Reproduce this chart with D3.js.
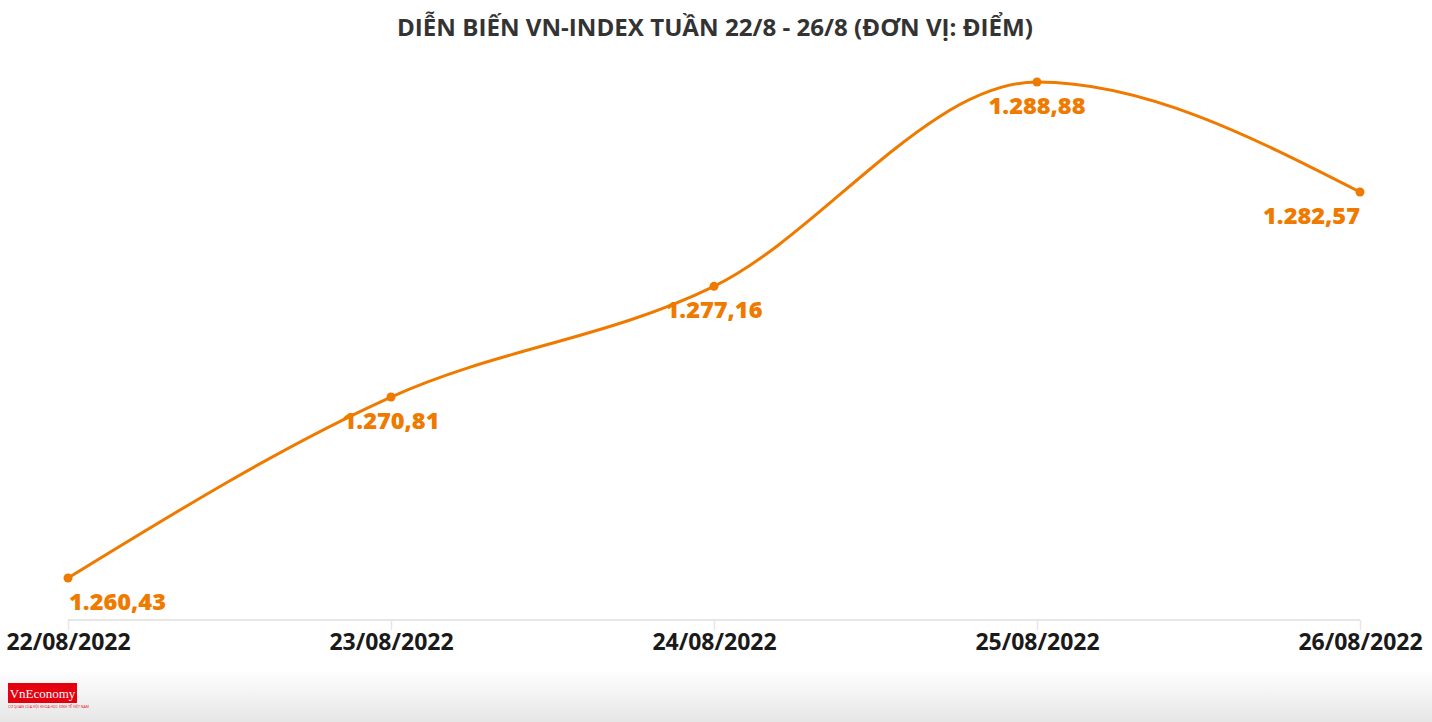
<!DOCTYPE html>
<html><head><meta charset="utf-8">
<script src="https://cdn.jsdelivr.net/npm/d3@7"></script>
<style>body{margin:0;background:#fff;overflow:hidden}svg{display:block}</style>
</head><body>
<svg id="c" width="1432" height="722"></svg>
<script>
const title = "DIỄN BIẾN VN-INDEX TUẦN 22/8 - 26/8 (ĐƠN VỊ: ĐIỂM)";
const dates = ["22/08/2022","23/08/2022","24/08/2022","25/08/2022","26/08/2022"];
const values = [1260.43, 1270.81, 1277.16, 1288.88, 1282.57];
const labels = ["1.260,43","1.270,81","1.277,16","1.288,88","1.282,57"];

const svg = d3.select("#c");
const W = 1432, H = 722;
const orange = "#ef7a00";
const font = "'Open Sans', 'Noto Sans', sans-serif";

const defs = svg.append("defs");
const g = defs.append("linearGradient").attr("id","sh").attr("x1",0).attr("y1",0).attr("x2",0).attr("y2",1);
g.append("stop").attr("offset","0%").attr("stop-color","#fff");
g.append("stop").attr("offset","100%").attr("stop-color","#e6e6e6");
svg.append("rect").attr("x",0).attr("y",670).attr("width",W).attr("height",52).attr("fill","url(#sh)");

const x = d3.scalePoint().domain(dates).range([68, 1360]);
const y = d3.scaleLinear().domain([1260.43, 1288.88]).range([578, 82]);

svg.append("text").attr("x", 715).attr("y", 36).attr("text-anchor","middle")
  .attr("font-family", font).attr("font-weight", 700).attr("font-size", 23)
  .attr("fill", "#333").attr("textLength", 636).attr("lengthAdjust","spacingAndGlyphs").text(title);

// x axis
const axisY = 620;
const ax = svg.append("g").attr("transform", `translate(0,${axisY})`)
  .call(d3.axisBottom(x).tickSize(10).tickPadding(8));
ax.select(".domain").attr("stroke","#e6e6e6").attr("stroke-width",2)
  .attr("d", `M${x(dates[0])},0H${x(dates[4])}`);
ax.selectAll(".tick line").attr("stroke","#e6e6e6").attr("stroke-width",1.5);
ax.selectAll(".tick text").attr("font-family", font).attr("font-weight",700)
  .attr("font-size",23).attr("fill","#1a1a1a").attr("dy","0.5em");

const data = dates.map((d,i)=>({d, v: values[i], l: labels[i]}));
const line = d3.line().x(d=>x(d.d)).y(d=>y(d.v)).curve(d3.curveMonotoneX);
svg.append("path").datum(data).attr("d", line).attr("fill","none")
  .attr("stroke", orange).attr("stroke-width",3);
svg.selectAll("circle.p").data(data).join("circle").attr("class","p")
  .attr("cx", d=>x(d.d)).attr("cy", d=>y(d.v)).attr("r",4.5).attr("fill", orange);
svg.selectAll("text.lbl").data(data).join("text").attr("class","lbl")
  .attr("x", (d,i)=> i===0 ? x(d.d)+1 : x(d.d))
  .attr("y", d=>y(d.v)+32)
  .attr("text-anchor", (d,i)=> i===0 ? "start" : (i===4 ? "end" : "middle"))
  .attr("font-family", font).attr("font-weight",800).attr("font-size",23)
  .attr("textLength", 97).attr("lengthAdjust","spacingAndGlyphs")
  .attr("fill", orange).text(d=>d.l);

// logo
const lg = svg.append("g").attr("transform","translate(8,683)");
lg.append("rect").attr("width",69).attr("height",20).attr("fill","#e4000f");
lg.append("text").attr("x",34.5).attr("y",15).attr("text-anchor","middle")
  .attr("font-family","'Liberation Serif', serif").attr("font-size",13).attr("fill","#fff").text("VnEconomy");
lg.append("text").attr("x",0).attr("y",25).attr("font-family",font).attr("font-size",3.5)
  .attr("fill","#e4000f").text("CƠ QUAN CỦA HỘI KHOA HỌC KINH TẾ VIỆT NAM");
</script>
</body></html>
